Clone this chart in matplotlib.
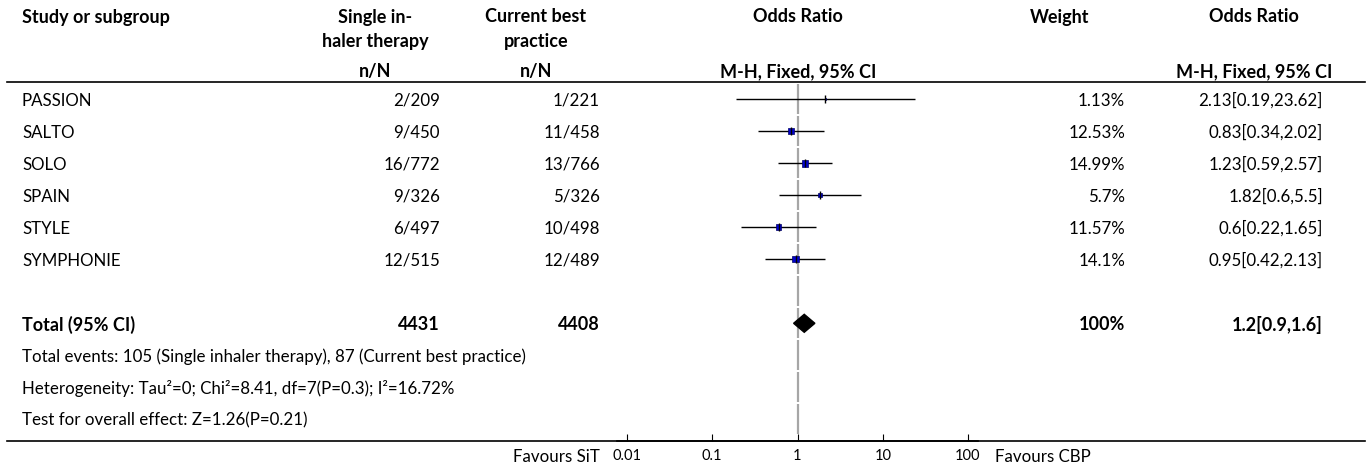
import matplotlib
matplotlib.use("Agg")
import matplotlib.pyplot as plt
import numpy as np

# study level data
studies = ['PASSION', 'SALTO', 'SOLO', 'SPAIN', 'STYLE', 'SYMPHONIE']
sit_n = [2, 9, 16, 9, 6, 12]
sit_N = [209, 450, 772, 326, 497, 515]
cbp_n = [1, 11, 13, 5, 10, 12]
cbp_N = [221, 458, 766, 326, 498, 489]
weights = [1.13, 12.53, 14.99, 5.7, 11.57, 14.1]
or_est = [2.13, 0.83, 1.23, 1.82, 0.6, 0.95]
or_lo = [0.19, 0.34, 0.59, 0.6, 0.22, 0.42]
or_hi = [23.62, 2.02, 2.57, 5.5, 1.65, 2.13]

# pooled result
total_sit = 4431
total_cbp = 4408
total_weight = 100
total_or = [1.2, 0.9, 1.6]

footer = ['Total events: 105 (Single inhaler therapy), 87 (Current best practice)',
          'Heterogeneity: Tau\u00b2=0; Chi\u00b2=8.41, df=7(P=0.3); I\u00b2=16.72%',
          'Test for overall effect: Z=1.26(P=0.21)']

axis_ticks = [0.01, 0.1, 1, 10, 100]
axis_labels = ['0.01', '0.1', '1', '10', '100']

plt.rcParams['font.family'] = ['Lato', 'DejaVu Sans']
FS = 12.2
FSB = 13.0

W, H = 1370, 470
fig = plt.figure(figsize=(W / 100, H / 100), dpi=100)

# text layer in pixel units
tab = fig.add_axes([0, 0, 1, 1])
tab.set_xlim(0, W)
tab.set_ylim(H, 0)
tab.axis('off')

row0, step = 99.3, 32.0


def ypix(i):
    return row0 + step * i + 1.5


# header
hdr = dict(fontsize=FSB, fontweight='bold', va='center')
tab.text(22, 17, 'Study or subgroup', ha='left', **hdr)
tab.text(375, 17, 'Single in-', ha='center', **hdr)
tab.text(375, 41, 'haler therapy', ha='center', **hdr)
tab.text(375, 72, 'n/N', ha='center', **hdr)
tab.text(536, 17, 'Current best', ha='center', **hdr)
tab.text(536, 41, 'practice', ha='center', **hdr)
tab.text(536, 72, 'n/N', ha='center', **hdr)
tab.text(798, 17, 'Odds Ratio', ha='center', **hdr)
tab.text(798, 72, 'M-H, Fixed, 95% CI', ha='center', **hdr)
tab.text(1060, 17, 'Weight', ha='center', **hdr)
tab.text(1254, 17, 'Odds Ratio', ha='center', **hdr)
tab.text(1254, 72, 'M-H, Fixed, 95% CI', ha='center', **hdr)

tab.plot([7, 1365], [82, 82], color='black', lw=1.2)
tab.plot([7, 1365], [441, 441], color='black', lw=1.2)

# study rows
for i, name in enumerate(studies):
    y = ypix(i)
    tab.text(22, y, name, ha='left', va='center', fontsize=FS)
    tab.text(440, y, f'{sit_n[i]}/{sit_N[i]}', ha='right', va='center', fontsize=FS)
    tab.text(600, y, f'{cbp_n[i]}/{cbp_N[i]}', ha='right', va='center', fontsize=FS)
    tab.text(1125, y, f'{weights[i]}%', ha='right', va='center', fontsize=FS)
    tab.text(1323, y, f'{or_est[i]}[{or_lo[i]},{or_hi[i]}]', ha='right', va='center', fontsize=FS)

# total row
y = ypix(7)
tab.text(22, y, 'Total (95% CI)', ha='left', **hdr)
tab.text(440, y, str(total_sit), ha='right', **hdr)
tab.text(600, y, str(total_cbp), ha='right', **hdr)
tab.text(1125, y, f'{total_weight}%', ha='right', **hdr)
tab.text(1323, y, f'{total_or[0]}[{total_or[1]},{total_or[2]}]', ha='right', **hdr)

for k, line in enumerate(footer):
    tab.text(22, ypix(8 + k), line, ha='left', va='center', fontsize=FS)

tab.text(600, 457, 'Favours SiT', ha='right', va='center', fontsize=FS)
tab.text(995, 457, 'Favours CBP', ha='left', va='center', fontsize=FS)

# forest panel
x_left, x_right = 617, 978
y_top, y_bot = 82, 441
ax = fig.add_axes([x_left / W, 1 - y_bot / H, (x_right - x_left) / W, (y_bot - y_top) / H])
ax.patch.set_alpha(0)
ax.set_xscale('log')
px_per_dec = (968 - 627) / 4
ax.set_xlim(10 ** (-2 - (627 - x_left) / px_per_dec), 10 ** (2 + (x_right - 968) / px_per_dec))
ax.set_ylim((y_bot - row0) / step, (y_top - row0) / step)

rows = np.arange(len(studies))

# reference line at 1, drawn in short pieces
seg_lo = np.concatenate([[(y_top - row0) / step], np.arange(0, 11) - 0.5 + 0.03])
seg_hi = np.concatenate([[-0.5 - 0.03], np.arange(0, 11) + 0.5 - 0.03])
ax.vlines(np.ones(len(seg_lo)), seg_lo, seg_hi, color='#a6a6a6', lw=1.6, zorder=1)

ax.hlines(rows, or_lo, or_hi, color='black', lw=1.0, zorder=2)
sizes = (1.7 * np.sqrt(weights) / 1.389) ** 2
ax.scatter(or_est, rows, marker='s', s=sizes, color='#0000cc', edgecolor='#000066', lw=0.5, zorder=3)
ax.plot(or_est, rows, ls='none', marker='|', ms=6, mew=1.0, color='black', zorder=4)

d_h = 9 / step
ax.fill([total_or[1], total_or[0], total_or[2], total_or[0]],
        [7, 7 - d_h, 7, 7 + d_h], color='black', zorder=3)

for s in ['top', 'left', 'right']:
    ax.spines[s].set_visible(False)
ax.spines['bottom'].set_linewidth(1.2)
ax.set_yticks([])
ax.set_xticks(axis_ticks)
ax.set_xticklabels(axis_labels)
ax.minorticks_off()
ax.tick_params(axis='x', direction='in', length=5, width=0.8, labelsize=10.5, pad=6)

fig.savefig('out.png', dpi=100)
